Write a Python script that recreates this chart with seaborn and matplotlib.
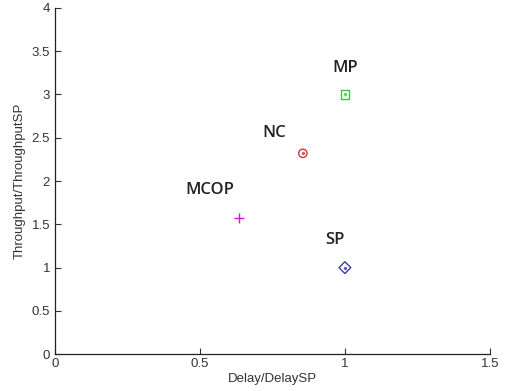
import matplotlib
matplotlib.use("Agg")
import matplotlib.pyplot as plt
import seaborn as sns
import pandas as pd

methods = ["MP", "NC", "MCOP", "SP"]
delay = [1.0, 0.855, 0.634, 1.0]
throughput = [3.0, 2.32, 1.57, 1.0]
label_x = [1.0, 0.755, 0.534, 0.966]
label_y = [3.30, 2.55, 1.90, 1.32]
colors = ["#3cc83c", "#c83c3c", "#c81ec8", "#3c3c9a"]
markers = ["s", "o", "P", "D"]

sns.set_style("white")
plt.rcParams['font.family'] = ['Liberation Sans', 'DejaVu Sans']

df = pd.DataFrame({"method": methods, "delay": delay, "throughput": throughput})

fig = plt.figure(figsize=(5.13, 3.91), dpi=100)
ax = fig.add_axes([0.107, 0.094, 0.848, 0.886])

for m, c, mk in zip(methods, colors, markers):
    sub = df[df.method == m]
    if mk == "P":
        ax.plot(sub.delay, sub.throughput, marker="+", color=c, ms=7.5, mew=1.0, ls="none")
    else:
        sns.scatterplot(data=sub, x="delay", y="throughput", marker=mk, s=36,
                        facecolor="none", edgecolor=c, linewidth=1.0, ax=ax, legend=False)
        ax.plot(sub.delay, sub.throughput, marker="o", color=c, ms=1.5, ls="none", alpha=0.7)

for m, lx, ly in zip(methods, label_x, label_y):
    ax.text(lx, ly, m, ha="center", va="center", fontsize=12, fontweight="semibold",
            color="#222222", family=["Open Sans", "DejaVu Sans"])

ax.set_xlim(0, 1.5)
ax.set_ylim(0, 4)
ax.set_xticks([0, 0.5, 1, 1.5])
ax.set_xticklabels(["0", "0.5", "1", "1.5"])
ax.set_yticks([0, 0.5, 1, 1.5, 2, 2.5, 3, 3.5, 4])
ax.set_yticklabels(["0", "0.5", "1", "1.5", "2", "2.5", "3", "3.5", "4"])
ax.set_xlabel("Delay/DelaySP", fontsize=9.5, color="#333333", labelpad=2)
ax.set_ylabel("Throughput/ThroughputSP", fontsize=9.5, color="#333333", labelpad=4)
ax.tick_params(direction="in", length=4, width=0.8, labelsize=9.5, colors="#333333",
               left=True, bottom=True)
ax.tick_params(axis="x", pad=3)
for side in ["top", "right"]:
    ax.spines[side].set_visible(False)
for side in ["left", "bottom"]:
    ax.spines[side].set_color("#222222")
    ax.spines[side].set_linewidth(0.9)

fig.savefig("out.png", dpi=100)
